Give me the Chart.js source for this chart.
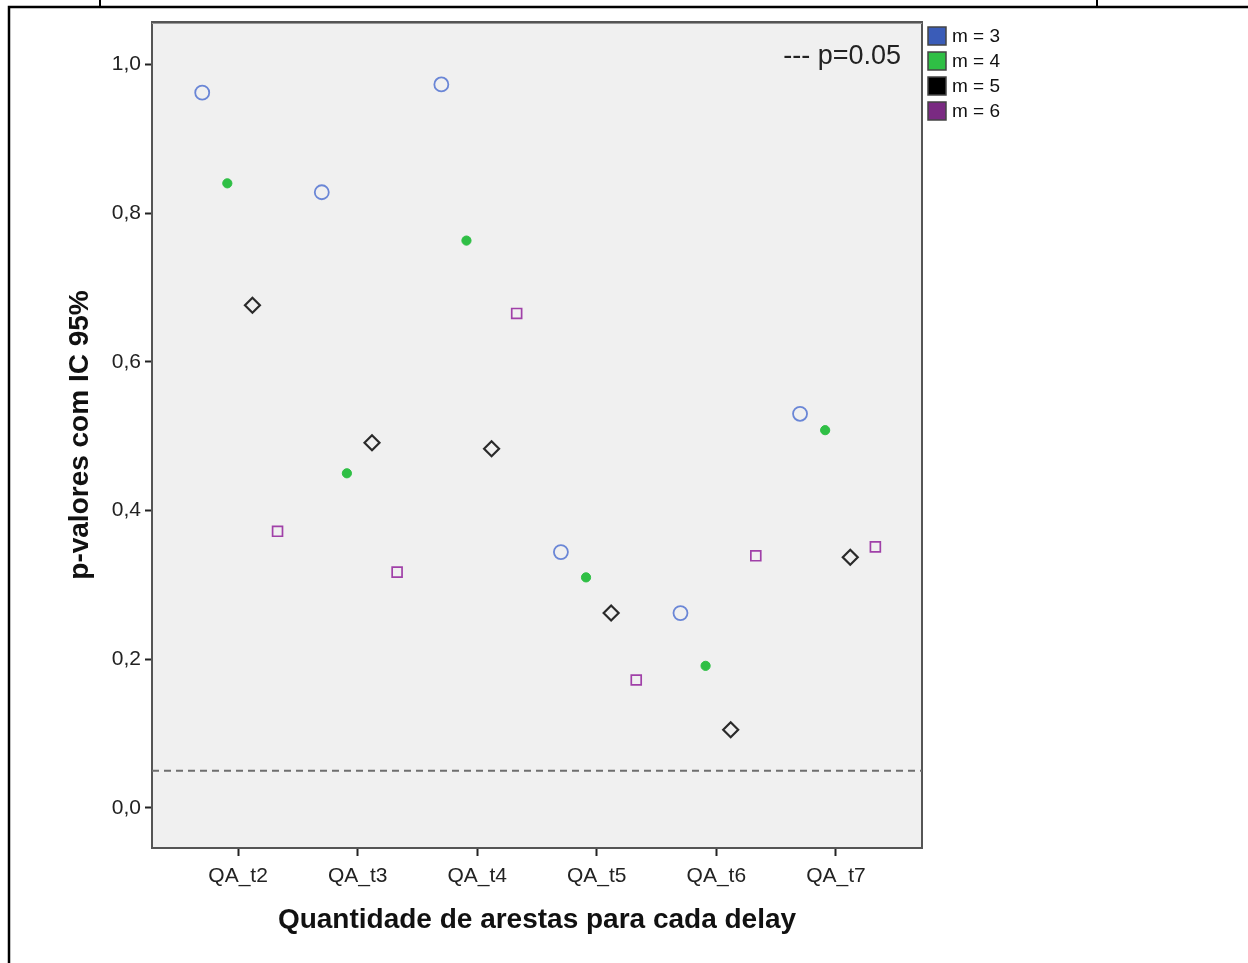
<!DOCTYPE html>
<html><head><meta charset="utf-8">
<script src="https://cdn.jsdelivr.net/npm/chart.js@4.4.1/dist/chart.umd.min.js"></script>
<style>html,body{margin:0;padding:0;background:#fff;overflow:hidden}#c{display:block}</style>
</head><body>
<canvas id="c" width="1248" height="963"></canvas>
<script>
// ---- data ----
const categories = ['QA_t2','QA_t3','QA_t4','QA_t5','QA_t6','QA_t7'];
const seriesLabels = ['m = 3','m = 4','m = 5','m = 6'];
const m3 = [0.962,0.828,0.973,0.344,0.262,0.530];
const m4 = [0.840,0.450,0.763,0.310,0.191,0.508];
const m5 = [0.676,0.491,0.483,0.262,0.105,0.337];
const m6 = [0.372,0.317,0.665,0.172,0.339,0.351];
const yTicks = [0,0.2,0.4,0.6,0.8,1.0];
const threshold = 0.05;
const thresholdLabel = '--- p=0.05';
const xTitle = 'Quantidade de arestas para cada delay';
const yTitle = 'p-valores com IC 95%';

// ---- styles ----
const FONT = "'Liberation Sans', Arial, sans-serif";
const dodge = [-0.30, -0.09, 0.12, 0.33];
const legendColors = ['#3a5cb8','#2fbf45','#000000','#7a2a82'];
const seriesValues = [m3, m4, m5, m6];
const markerStyles = [
  {pointStyle:'circle', pointRadius:7, backgroundColor:'rgba(0,0,0,0)', borderColor:'#6a86d6', pointBorderWidth:1.8},
  {pointStyle:'circle', pointRadius:4.6, backgroundColor:'#2fbf45', borderColor:'#2fbf45', pointBorderWidth:1},
  {pointStyle:'rectRot', pointRadius:7.5, backgroundColor:'rgba(0,0,0,0)', borderColor:'#2a2a2a', pointBorderWidth:2.2},
  {pointStyle:'rect', pointRadius:7, backgroundColor:'rgba(0,0,0,0)', borderColor:'#a040a8', pointBorderWidth:1.7}
];

const datasets = seriesValues.map((vals, s) => Object.assign({
  label: seriesLabels[s],
  data: vals.map((v, i) => ({x: i + dodge[s], y: v})),
  showLine: false
}, markerStyles[s]));

const decoPlugin = {
  id: 'deco',
  beforeDraw(chart) {
    const ctx = chart.ctx, a = chart.chartArea;
    ctx.save();
    ctx.fillStyle = '#fff';
    ctx.fillRect(0, 0, chart.width, chart.height);
    // outer frame
    ctx.strokeStyle = '#000';
    ctx.lineWidth = 2.5;
    ctx.beginPath();
    ctx.moveTo(9, chart.height); ctx.lineTo(9, 7); ctx.lineTo(chart.width, 7);
    ctx.stroke();
    ctx.lineWidth = 2;
    ctx.beginPath();
    ctx.moveTo(100, 0); ctx.lineTo(100, 7);
    ctx.moveTo(1097, 0); ctx.lineTo(1097, 7);
    ctx.stroke();
    // plot background
    ctx.fillStyle = '#f0f0f0';
    ctx.fillRect(a.left, a.top, a.right - a.left, a.bottom - a.top);
    ctx.restore();
  },
  beforeDatasetsDraw(chart) {
    const ctx = chart.ctx, a = chart.chartArea, y = chart.scales.y;
    ctx.save();
    // plot border
    ctx.strokeStyle = '#555';
    ctx.lineWidth = 2;
    ctx.strokeRect(a.left, a.top, a.right - a.left, a.bottom - a.top);
    ctx.strokeStyle = '#999';
    ctx.lineWidth = 1;
    ctx.beginPath(); ctx.moveTo(a.left, a.top + 1.5); ctx.lineTo(a.right, a.top + 1.5); ctx.stroke();
    // threshold line
    const py = y.getPixelForValue(threshold);
    ctx.strokeStyle = '#6e6e6e';
    ctx.lineWidth = 2;
    ctx.setLineDash([7, 5]);
    ctx.beginPath(); ctx.moveTo(a.left, py); ctx.lineTo(a.right, py); ctx.stroke();
    ctx.setLineDash([]);
    // threshold label
    ctx.fillStyle = '#222';
    ctx.font = '27px ' + FONT;
    ctx.textAlign = 'right';
    ctx.textBaseline = 'middle';
    ctx.fillText(thresholdLabel, a.right - 21, a.top + 35);
    ctx.restore();
  },
  afterDraw(chart) {
    const ctx = chart.ctx, a = chart.chartArea;
    ctx.save();
    const x0 = a.right + 6;
    chart.data.datasets.forEach((ds, i) => {
      const cy = a.top + 14 + i * 25;
      ctx.fillStyle = legendColors[i];
      ctx.fillRect(x0, cy - 9, 18, 18);
      ctx.strokeStyle = '#444';
      ctx.lineWidth = 1.5;
      ctx.strokeRect(x0, cy - 9, 18, 18);
      ctx.fillStyle = '#111';
      ctx.font = '19px ' + FONT;
      ctx.textAlign = 'left';
      ctx.textBaseline = 'middle';
      ctx.fillText(ds.label, x0 + 24, cy + 1);
    });
    ctx.restore();
  }
};

new Chart(document.getElementById('c'), {
  type: 'scatter',
  data: {datasets},
  plugins: [decoPlugin],
  options: {
    responsive: false,
    animation: false,
    events: [],
    layout: {padding: {left: 0, top: 22, right: 326, bottom: 0}},
    plugins: {legend: {display: false}, tooltip: {enabled: false}},
    scales: {
      x: {
        type: 'linear',
        min: -0.72, max: 5.72,
        afterBuildTicks: s => { s.ticks = categories.map((c, i) => ({value: i})); },
        afterFit: s => { s.height = 115; },
        ticks: {
          autoSkip: false, maxRotation: 0, padding: 8,
          color: '#222', font: {family: FONT, size: 21},
          callback: v => categories[v] ?? ''
        },
        grid: {drawOnChartArea: false, drawTicks: true, tickLength: 8, tickColor: '#222', tickWidth: 2},
        border: {display: true, color: '#222', width: 2},
        title: {display: true, text: xTitle, color: '#111',
                font: {family: FONT, size: 28, weight: 'bold'}, padding: {bottom: 26}}
      },
      y: {
        min: -0.054, max: 1.057,
        afterBuildTicks: s => { s.ticks = yTicks.map(v => ({value: v})); },
        afterFit: s => { s.width = 152; },
        ticks: {
          padding: 4, color: '#222', font: {family: FONT, size: 21},
          callback: v => v.toFixed(1).replace('.', ',')
        },
        grid: {drawOnChartArea: false, drawTicks: true, tickLength: 7, tickColor: '#222', tickWidth: 2},
        border: {display: true, color: '#222', width: 2},
        title: {display: true, text: yTitle, color: '#111',
                font: {family: FONT, size: 28, weight: 'bold'}, padding: {top: 63}}
      }
    }
  }
});
</script>
</body></html>
